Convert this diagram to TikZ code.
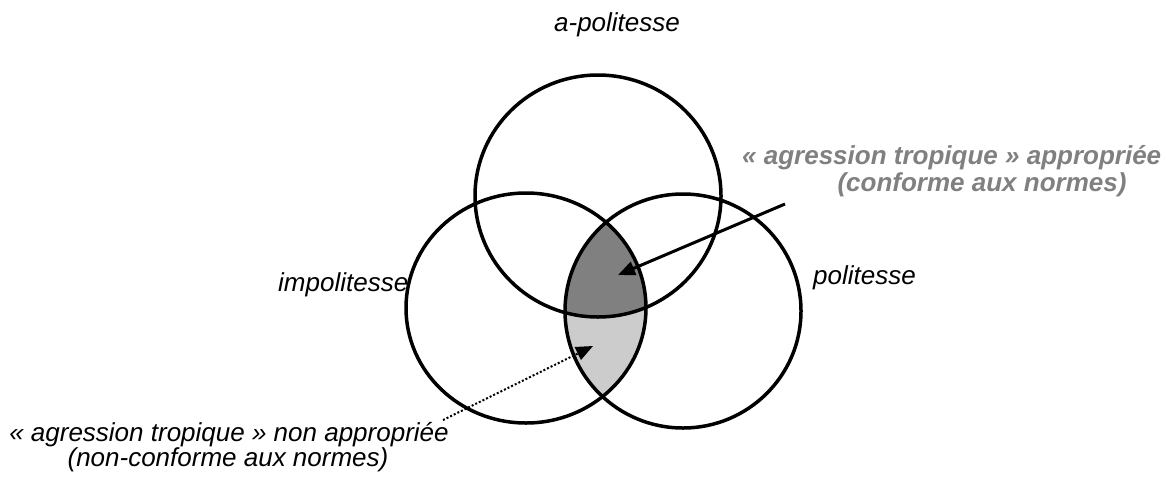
\documentclass[tikz,border=0pt]{standalone}
\usepackage{fontspec}
\setmainfont{Liberation Sans}
\usetikzlibrary{arrows.meta}
\definecolor{darkfill}{RGB}{128,128,128}
\definecolor{lightfill}{RGB}{204,204,204}
\definecolor{lblgray}{RGB}{128,128,128}
\tikzset{
  setline/.style={line width=3.5pt},
  lbl/.style={inner sep=0pt, font=\fontsize{26}{27}\selectfont\itshape},
  graylbl/.style={inner sep=0pt, text=lblgray, font=\fontsize{26}{27}\selectfont\itshape\bfseries},
  arrowtip/.style={-{Triangle[length=17pt,width=14pt]}},
  solidarrow/.style={arrowtip, line width=3pt},
  dotarrow/.style={arrowtip, line width=2pt, dotted},
}
\begin{document}
\begin{tikzpicture}[x=1pt,y=-1pt]
\useasboundingbox (0,0) rectangle (1172,477);
% regions
\begin{scope}
  \clip (526,308) ellipse [x radius=120pt, y radius=115pt];
  \fill[lightfill] (683,311) ellipse [x radius=118pt, y radius=117pt];
  \clip (598,196) ellipse [x radius=123pt, y radius=121pt];
  \fill[darkfill] (683,311) ellipse [x radius=118pt, y radius=117pt];
\end{scope}
% circles
\draw[setline] (598,196) ellipse [x radius=123pt, y radius=121pt];
\draw[setline] (526,308) ellipse [x radius=120pt, y radius=115pt];
\draw[setline] (683,311) ellipse [x radius=118pt, y radius=117pt];
% labels
\node[lbl, anchor=base] (apol) at (617,31) {a-politesse};
\node[lbl, anchor=base west] (impol) at (278,291) {impolitesse};
\node[lbl, anchor=base west] (pol) at (813,284) {politesse};
\node[graylbl, anchor=base west] (appA) at (742,164) {« agression tropique » appropriée};
\node[graylbl, anchor=base] (appB) at (982,191) {(conforme aux normes)};
\node[lbl, anchor=base] (nappA) at (229,441) {« agression tropique » non appropriée};
\node[lbl, anchor=base] (nappB) at (228,466) {(non-conforme aux normes)};
% arrows
\coordinate (solidtail) at (785,204);
\coordinate (darktip) at (618,275);
\coordinate (dottail) at (443,420);
\coordinate (lighttip) at (593,346);
\draw[solidarrow] (solidtail) -- (darktip);
\draw[dotarrow] (dottail) -- (lighttip);
\end{tikzpicture}
\end{document}
